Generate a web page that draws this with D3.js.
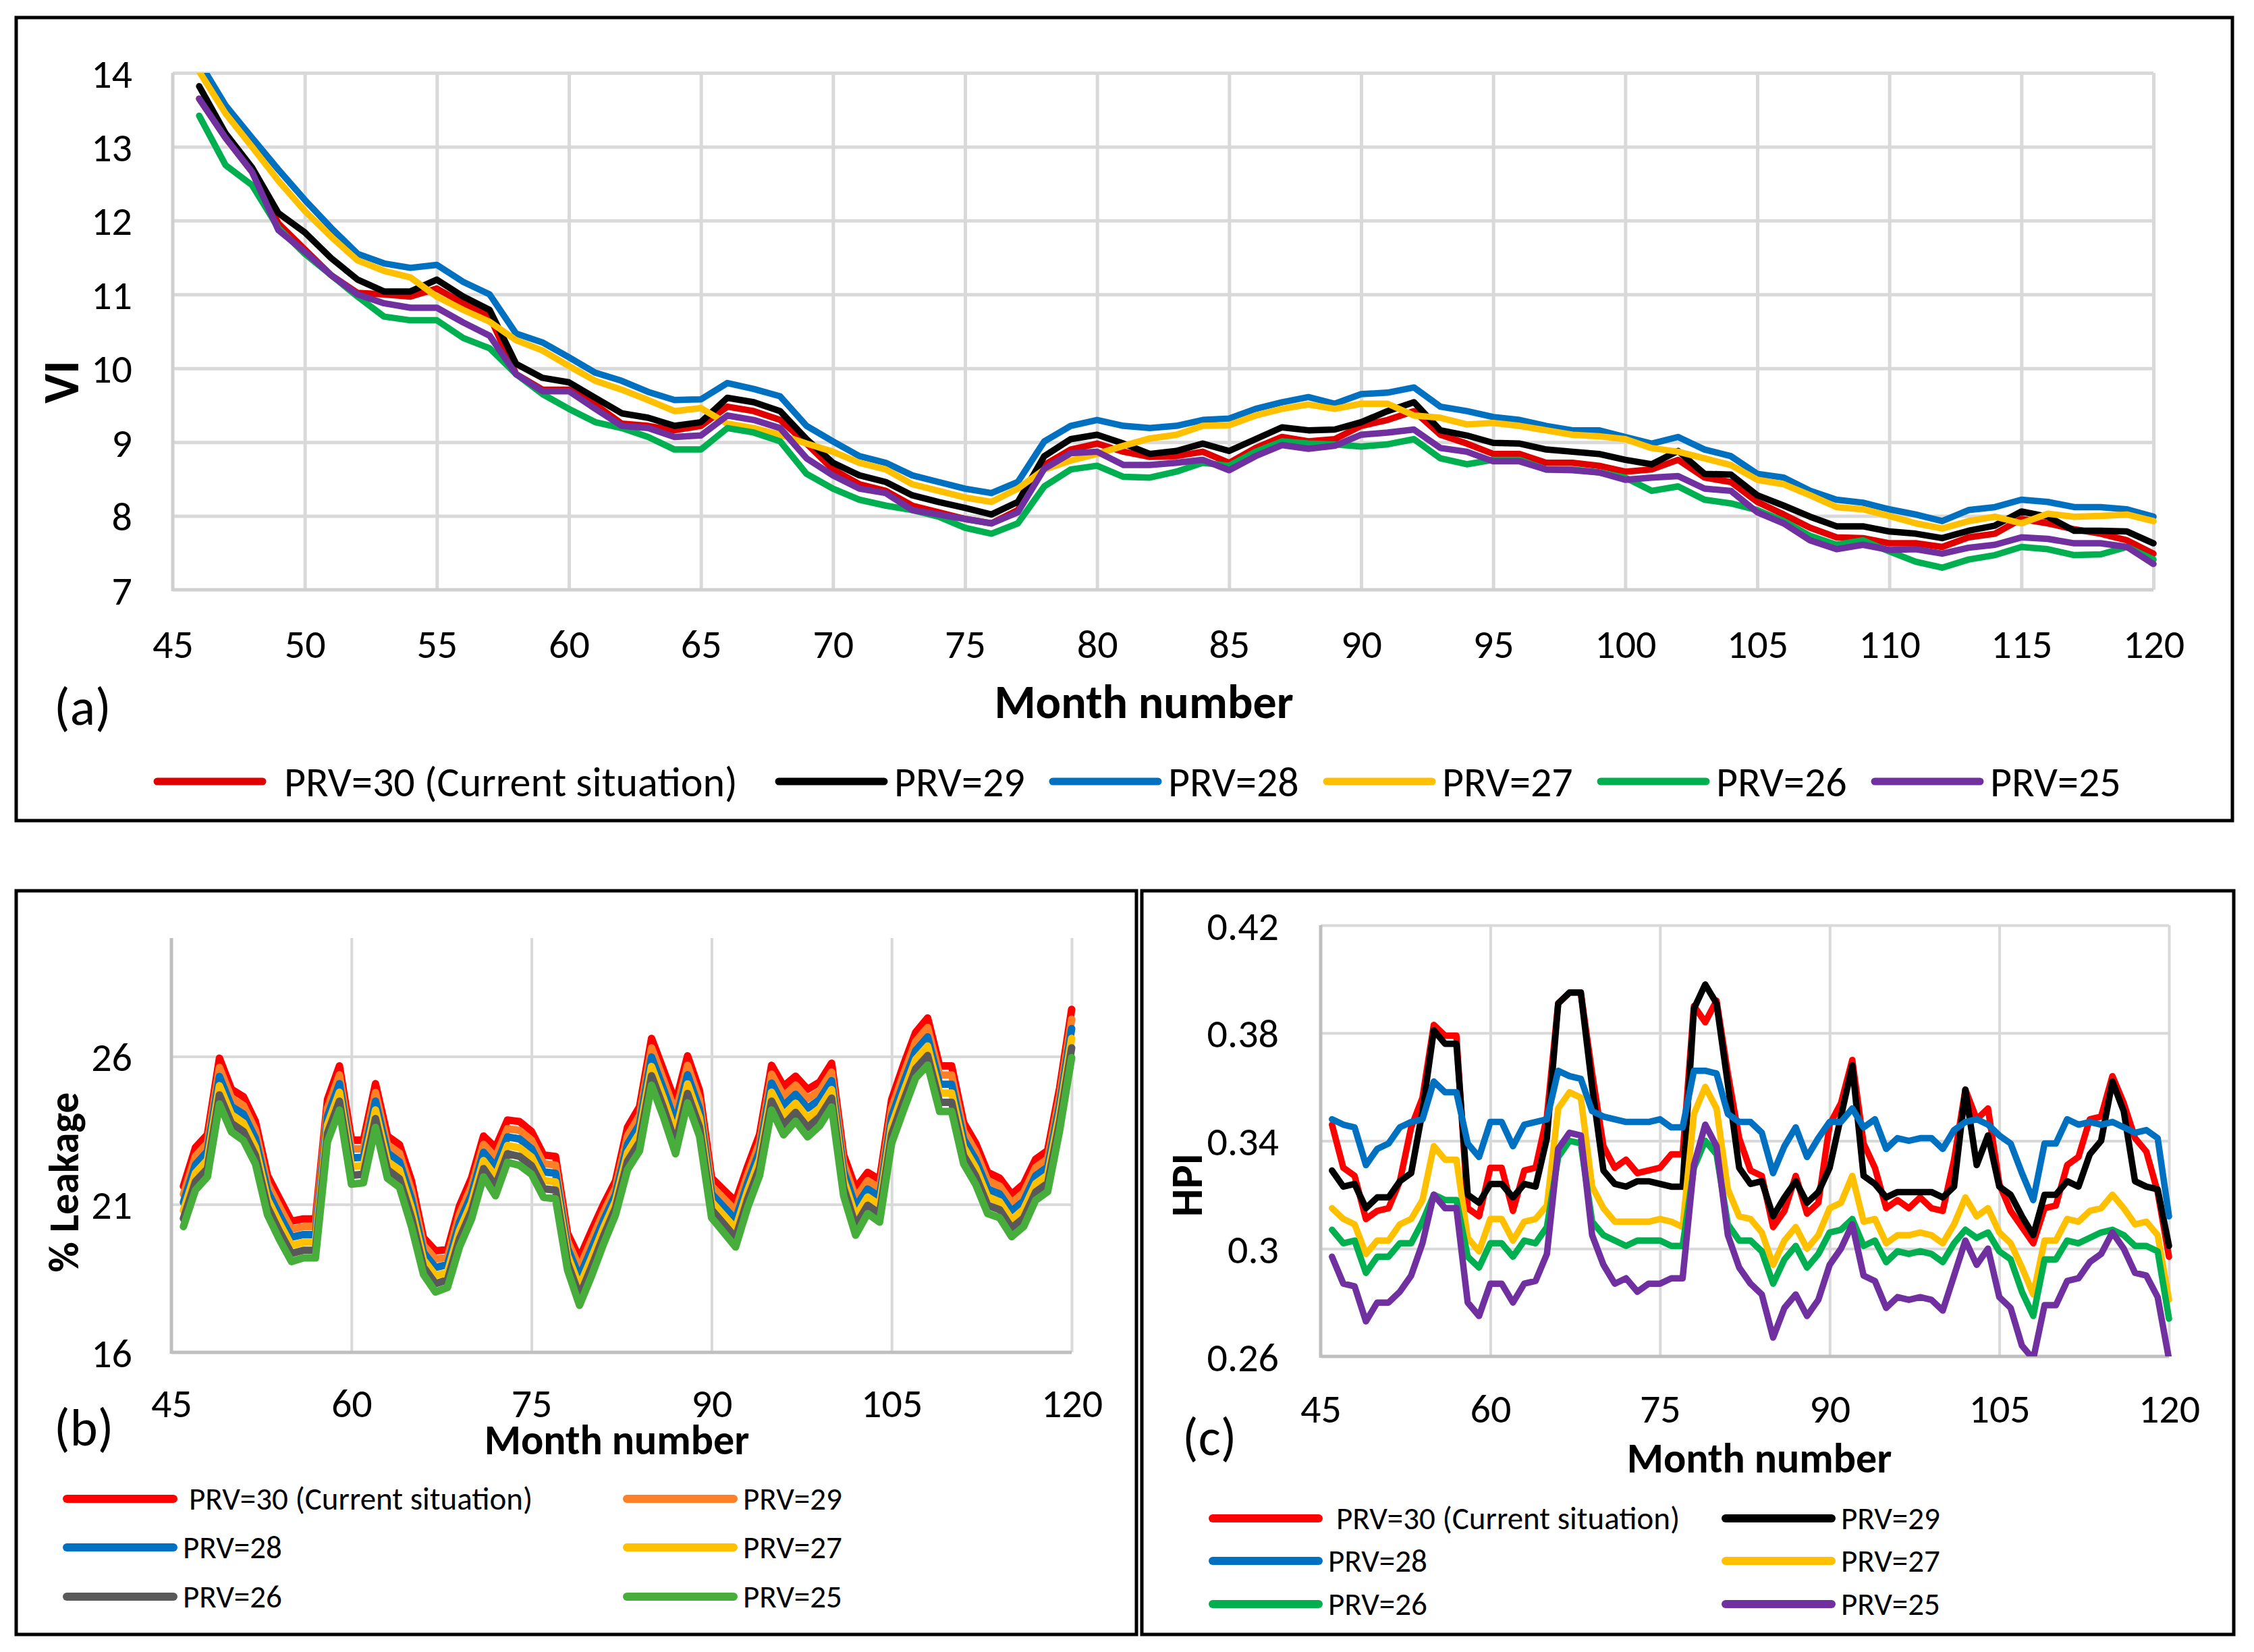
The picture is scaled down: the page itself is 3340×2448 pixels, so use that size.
<!DOCTYPE html>
<html>
<head>
  <meta charset="utf-8">
  <title>PRV scenarios: VI, % Leakage and HPI</title>
  <script src="https://d3js.org/d3.v7.min.js"></script>
  <style>
    body { margin: 0; background: #fff; }
    text { font-family: Carlito, Calibri, 'Liberation Sans Narrow', 'Roboto', sans-serif; fill: #000; }
  </style>
</head>
<body>
<script>
  // months shown in every panel
  const months = d3.range(46, 121);

  // ---- panel (a): VI ----
  const viPrv30 = [13.65, 13.12, 12.66, 11.96, 11.61, 11.26, 11.02, 11.0, 10.97, 11.08, 10.88, 10.7, 9.92, 9.71, 9.71, 9.51, 9.25, 9.22, 9.16, 9.22, 9.48, 9.42, 9.3, 8.98, 8.63, 8.43, 8.34, 8.14, 8.05, 7.96, 7.9, 8.08, 8.69, 8.9, 8.98,
    8.87, 8.8, 8.81, 8.87, 8.72, 8.92, 9.07, 9.01, 9.04, 9.22, 9.3, 9.42, 9.1, 8.98, 8.84, 8.84, 8.72, 8.72, 8.68, 8.6, 8.63, 8.76, 8.52, 8.46, 8.19, 8.02, 7.84, 7.71, 7.7, 7.63, 7.63, 7.58, 7.71, 7.76, 7.96, 7.9, 7.82, 7.76, 7.67, 7.49];
  const viPrv29 = [13.82, 13.18, 12.72, 12.1, 11.84, 11.49, 11.2, 11.04, 11.04, 11.2, 10.97, 10.79, 10.06, 9.87, 9.81, 9.6, 9.39, 9.33, 9.22, 9.27, 9.6, 9.54, 9.42, 9.04, 8.72, 8.55, 8.46, 8.28, 8.19, 8.11, 8.02, 8.19, 8.81, 9.04, 9.1,
    8.98, 8.84, 8.88, 8.98, 8.88, 9.04, 9.2, 9.16, 9.17, 9.27, 9.42, 9.54, 9.16, 9.09, 8.99, 8.98, 8.9, 8.87, 8.84, 8.76, 8.7, 8.88, 8.57, 8.56, 8.28, 8.14, 7.99, 7.86, 7.86, 7.79, 7.76, 7.7, 7.8, 7.87, 8.06, 7.99, 7.8, 7.8, 7.79, 7.63];
  const viPrv28 = [14.15, 13.56, 13.12, 12.69, 12.28, 11.9, 11.55, 11.42, 11.36, 11.4, 11.17, 11.0, 10.47, 10.35, 10.15, 9.94, 9.83, 9.68, 9.57, 9.58, 9.8, 9.72, 9.62, 9.22, 9.01, 8.81, 8.72, 8.55, 8.46, 8.37, 8.31, 8.46, 9.01, 9.22, 9.3,
    9.22, 9.19, 9.22, 9.3, 9.32, 9.45, 9.54, 9.61, 9.52, 9.65, 9.67, 9.74, 9.48, 9.42, 9.34, 9.3, 9.22, 9.16, 9.16, 9.07, 8.98, 9.07, 8.9, 8.81, 8.57, 8.52, 8.34, 8.22, 8.18, 8.09, 8.02, 7.93, 8.08, 8.12, 8.22, 8.19, 8.12, 8.12, 8.09, 7.99];
  const viPrv27 = [14.02, 13.45, 13.0, 12.54, 12.13, 11.78, 11.46, 11.32, 11.23, 10.97, 10.79, 10.63, 10.38, 10.24, 10.03, 9.83, 9.71, 9.57, 9.42, 9.46, 9.25, 9.19, 9.1, 8.98, 8.87, 8.72, 8.63, 8.43, 8.34, 8.25, 8.19, 8.37, 8.63, 8.75, 8.84,
    8.95, 9.05, 9.1, 9.22, 9.23, 9.36, 9.45, 9.51, 9.45, 9.52, 9.52, 9.36, 9.33, 9.24, 9.26, 9.22, 9.16, 9.1, 9.08, 9.04, 8.92, 8.87, 8.78, 8.69, 8.49, 8.43, 8.28, 8.12, 8.09, 8.0, 7.9, 7.83, 7.93, 7.99, 7.9, 8.03, 7.99, 8.0, 8.02, 7.93];
  const viPrv26 = [13.42, 12.75, 12.48, 11.9, 11.55, 11.26, 10.97, 10.7, 10.65, 10.65, 10.41, 10.27, 9.92, 9.65, 9.45, 9.27, 9.19, 9.07, 8.9, 8.9, 9.19, 9.13, 9.01, 8.57, 8.37, 8.22, 8.14, 8.08, 7.99, 7.84, 7.76, 7.9, 8.4, 8.63, 8.68,
    8.53, 8.52, 8.6, 8.72, 8.68, 8.87, 9.01, 8.98, 8.97, 8.94, 8.97, 9.04, 8.78, 8.7, 8.76, 8.76, 8.63, 8.63, 8.59, 8.52, 8.34, 8.4, 8.22, 8.17, 8.08, 7.93, 7.73, 7.61, 7.67, 7.52, 7.38, 7.3, 7.41, 7.47, 7.58, 7.55, 7.47, 7.48, 7.58, 7.41];
  const viPrv25 = [13.65, 13.12, 12.66, 11.87, 11.58, 11.26, 11.0, 10.88, 10.82, 10.82, 10.62, 10.44, 9.92, 9.69, 9.69, 9.45, 9.22, 9.19, 9.07, 9.09, 9.36, 9.3, 9.19, 8.78, 8.55, 8.37, 8.31, 8.08, 8.02, 7.96, 7.9, 8.05, 8.64, 8.85, 8.87,
    8.69, 8.69, 8.72, 8.76, 8.62, 8.81, 8.96, 8.91, 8.95, 9.1, 9.13, 9.17, 8.92, 8.87, 8.74, 8.74, 8.63, 8.62, 8.59, 8.49, 8.52, 8.54, 8.37, 8.34, 8.05, 7.9, 7.67, 7.55, 7.61, 7.54, 7.55, 7.49, 7.57, 7.61, 7.71, 7.69, 7.63, 7.63, 7.58, 7.35];

  // ---- panel (b): % Leakage ----
  const lkPrv30 = [21.61, 22.92, 23.36, 25.94, 24.89, 24.64, 23.80, 21.98, 21.20, 20.43, 20.51, 20.51, 24.54, 25.68, 23.17, 23.17, 25.08, 23.31, 23.02, 21.79, 19.87, 19.43, 19.47, 20.95, 21.89, 23.31, 22.92, 23.85, 23.80, 23.46, 22.67, 22.62, 20.02, 19.18, 20.11, 21.00, 21.79, 23.61, 24.30, 26.61, 25.53, 24.44, 26.02, 24.84, 21.89, 21.49, 21.10, 22.28, 23.36, 25.70, 24.99, 25.33, 24.89, 25.13, 25.77, 22.67, 21.54, 22.08, 21.84, 24.54, 25.72, 26.81, 27.30, 25.68, 25.68, 23.76, 23.07, 22.08, 21.89, 21.34, 21.69, 22.53, 22.82, 24.94, 27.59];
  const lkPrv29 = [21.34, 22.63, 23.07, 25.63, 24.60, 24.34, 23.51, 21.71, 20.92, 20.16, 20.25, 20.25, 24.25, 25.38, 22.87, 22.88, 24.78, 23.02, 22.73, 21.48, 19.62, 19.15, 19.21, 20.67, 21.61, 23.03, 22.59, 23.56, 23.50, 23.17, 22.38, 22.33, 19.77, 18.86, 19.80, 20.73, 21.56, 23.32, 24.00, 26.29, 25.21, 24.09, 25.70, 24.53, 21.62, 21.20, 20.79, 22.00, 23.08, 25.40, 24.66, 25.03, 24.57, 24.83, 25.47, 22.39, 21.22, 21.80, 21.55, 24.24, 25.41, 26.50, 26.98, 25.37, 25.37, 23.48, 22.79, 21.80, 21.62, 21.05, 21.40, 22.25, 22.54, 24.65, 27.26];
  const lkPrv28 = [21.07, 22.34, 22.79, 25.32, 24.31, 24.05, 23.23, 21.45, 20.64, 19.89, 19.98, 19.98, 23.97, 25.08, 22.57, 22.59, 24.49, 22.74, 22.44, 21.17, 19.37, 18.87, 18.96, 20.39, 21.33, 22.76, 22.27, 23.28, 23.21, 22.88, 22.10, 22.05, 19.52, 18.54, 19.50, 20.46, 21.33, 23.03, 23.70, 25.98, 24.89, 23.75, 25.38, 24.22, 21.35, 20.92, 20.48, 21.72, 22.80, 25.10, 24.33, 24.72, 24.25, 24.54, 25.18, 22.12, 20.91, 21.52, 21.26, 23.95, 25.11, 26.19, 26.66, 25.06, 25.06, 23.20, 22.51, 21.52, 21.35, 20.77, 21.11, 21.97, 22.26, 24.36, 26.94];
  const lkPrv27 = [20.79, 22.06, 22.50, 25.01, 24.03, 23.75, 22.94, 21.18, 20.37, 19.61, 19.72, 19.72, 23.68, 24.79, 22.28, 22.31, 24.19, 22.45, 22.16, 20.87, 19.13, 18.60, 18.70, 20.12, 21.06, 22.48, 21.94, 22.99, 22.91, 22.60, 21.81, 21.76, 19.28, 18.23, 19.19, 20.20, 21.11, 22.75, 23.41, 25.66, 24.58, 23.40, 25.07, 23.92, 21.09, 20.63, 20.18, 21.45, 22.53, 24.79, 24.01, 24.42, 23.92, 24.24, 24.88, 21.84, 20.59, 21.25, 20.98, 23.65, 24.80, 25.89, 26.35, 24.76, 24.76, 22.93, 22.24, 21.25, 21.09, 20.48, 20.83, 21.70, 21.99, 24.08, 26.61];
  const lkPrv26 = [20.52, 21.77, 22.21, 24.70, 23.74, 23.46, 22.66, 20.92, 20.09, 19.34, 19.45, 19.45, 23.40, 24.49, 21.98, 22.02, 23.90, 22.17, 21.87, 20.56, 18.88, 18.32, 18.45, 19.84, 20.78, 22.21, 21.62, 22.71, 22.62, 22.31, 21.53, 21.48, 19.03, 17.91, 18.89, 19.93, 20.88, 22.46, 23.11, 25.35, 24.26, 23.05, 24.75, 23.61, 20.82, 20.35, 19.87, 21.17, 22.25, 24.49, 23.68, 24.11, 23.60, 23.95, 24.59, 21.57, 20.28, 20.97, 20.69, 23.36, 24.50, 25.58, 26.03, 24.45, 24.45, 22.65, 21.96, 20.97, 20.82, 20.20, 20.54, 21.42, 21.71, 23.79, 26.29];
  const lkPrv25 = [20.25, 21.48, 21.93, 24.39, 23.45, 23.16, 22.37, 20.65, 19.81, 19.07, 19.19, 19.19, 23.11, 24.19, 21.68, 21.73, 23.60, 21.88, 21.58, 20.25, 18.63, 18.04, 18.19, 19.56, 20.50, 21.93, 21.29, 22.42, 22.32, 22.02, 21.24, 21.19, 18.78, 17.59, 18.58, 19.66, 20.65, 22.17, 22.81, 25.03, 23.94, 22.71, 24.43, 23.30, 20.55, 20.06, 19.56, 20.89, 21.97, 24.19, 23.35, 23.81, 23.28, 23.65, 24.29, 21.29, 19.96, 20.69, 20.40, 23.06, 24.19, 25.27, 25.71, 24.14, 24.14, 22.37, 21.68, 20.69, 20.55, 19.91, 20.25, 21.14, 21.43, 23.50, 25.96];

  // ---- panel (c): HPI ----
  const hpiPrv30 = [0.346, 0.330, 0.327, 0.311, 0.314, 0.315, 0.325, 0.345, 0.356, 0.383, 0.379, 0.379, 0.315, 0.312, 0.330, 0.330, 0.314, 0.329, 0.330, 0.349, 0.391, 0.395, 0.395, 0.365, 0.338, 0.330, 0.333, 0.328, 0.329, 0.330, 0.335, 0.335, 0.390, 0.384, 0.392, 0.365, 0.341, 0.329, 0.327,
    0.308, 0.314, 0.327, 0.313, 0.317, 0.346, 0.354, 0.370, 0.339, 0.330, 0.315, 0.318, 0.315, 0.319, 0.315, 0.314, 0.333, 0.359, 0.348, 0.352, 0.324, 0.314, 0.308, 0.302, 0.315, 0.316, 0.331, 0.334, 0.348, 0.349, 0.364, 0.354, 0.341, 0.336, 0.321, 0.297];
  const hpiPrv29 = [0.329, 0.323, 0.324, 0.315, 0.319, 0.319, 0.325, 0.328, 0.351, 0.381, 0.376, 0.376, 0.320, 0.317, 0.324, 0.324, 0.319, 0.324, 0.323, 0.341, 0.391, 0.395, 0.395, 0.360, 0.329, 0.324, 0.323, 0.325, 0.325, 0.324, 0.323, 0.323, 0.389, 0.398, 0.391, 0.361, 0.330, 0.324, 0.325,
    0.312, 0.319, 0.325, 0.317, 0.321, 0.330, 0.349, 0.368, 0.327, 0.324, 0.319, 0.321, 0.321, 0.321, 0.321, 0.319, 0.323, 0.359, 0.331, 0.342, 0.323, 0.320, 0.312, 0.305, 0.320, 0.320, 0.325, 0.323, 0.335, 0.340, 0.362, 0.351, 0.325, 0.323, 0.322, 0.301];
  const hpiPrv28 = [0.348, 0.346, 0.345, 0.331, 0.337, 0.339, 0.345, 0.347, 0.348, 0.362, 0.358, 0.358, 0.339, 0.334, 0.347, 0.347, 0.338, 0.346, 0.347, 0.348, 0.366, 0.364, 0.363, 0.351, 0.349, 0.348, 0.347, 0.347, 0.347, 0.348, 0.345, 0.345, 0.366, 0.366, 0.365, 0.350, 0.347, 0.347, 0.343,
    0.328, 0.338, 0.345, 0.334, 0.341, 0.347, 0.347, 0.352, 0.345, 0.348, 0.337, 0.341, 0.340, 0.341, 0.341, 0.337, 0.344, 0.347, 0.348, 0.346, 0.342, 0.339, 0.328, 0.318, 0.339, 0.339, 0.348, 0.346, 0.347, 0.346, 0.347, 0.345, 0.343, 0.344, 0.341, 0.312];
  const hpiPrv27 = [0.315, 0.311, 0.309, 0.298, 0.303, 0.303, 0.309, 0.311, 0.318, 0.338, 0.333, 0.333, 0.304, 0.299, 0.311, 0.311, 0.303, 0.310, 0.311, 0.316, 0.352, 0.358, 0.356, 0.323, 0.315, 0.310, 0.310, 0.310, 0.310, 0.311, 0.310, 0.308, 0.350, 0.360, 0.352, 0.322, 0.312, 0.311, 0.306,
    0.294, 0.303, 0.308, 0.300, 0.305, 0.315, 0.317, 0.327, 0.310, 0.311, 0.302, 0.305, 0.305, 0.306, 0.305, 0.302, 0.309, 0.319, 0.312, 0.315, 0.306, 0.302, 0.293, 0.283, 0.303, 0.303, 0.311, 0.310, 0.314, 0.315, 0.320, 0.315, 0.309, 0.310, 0.305, 0.281];
  const hpiPrv26 = [0.307, 0.302, 0.303, 0.291, 0.297, 0.297, 0.302, 0.302, 0.310, 0.320, 0.318, 0.318, 0.297, 0.293, 0.302, 0.302, 0.297, 0.303, 0.302, 0.308, 0.334, 0.340, 0.339, 0.310, 0.305, 0.303, 0.301, 0.303, 0.303, 0.303, 0.301, 0.301, 0.330, 0.340, 0.335, 0.309, 0.303, 0.303, 0.299,
    0.287, 0.296, 0.301, 0.293, 0.298, 0.306, 0.307, 0.311, 0.301, 0.303, 0.295, 0.299, 0.298, 0.299, 0.298, 0.295, 0.302, 0.307, 0.304, 0.306, 0.299, 0.296, 0.284, 0.275, 0.296, 0.296, 0.303, 0.302, 0.304, 0.306, 0.307, 0.305, 0.301, 0.301, 0.299, 0.274];
  const hpiPrv25 = [0.297, 0.287, 0.286, 0.273, 0.280, 0.280, 0.284, 0.290, 0.302, 0.320, 0.315, 0.315, 0.280, 0.275, 0.287, 0.287, 0.280, 0.287, 0.288, 0.298, 0.337, 0.343, 0.342, 0.305, 0.294, 0.287, 0.289, 0.284, 0.287, 0.287, 0.289, 0.289, 0.331, 0.346, 0.338, 0.305, 0.293, 0.287, 0.283,
    0.267, 0.278, 0.283, 0.275, 0.281, 0.294, 0.300, 0.309, 0.290, 0.288, 0.278, 0.282, 0.281, 0.282, 0.281, 0.277, 0.290, 0.303, 0.294, 0.300, 0.282, 0.278, 0.264, 0.259, 0.279, 0.279, 0.288, 0.289, 0.295, 0.298, 0.306, 0.300, 0.291, 0.290, 0.282, 0.259];

  // tick values and labels
  const xTicksA = d3.range(45, 121, 5);
  const yTicksA = [7, 8, 9, 10, 11, 12, 13, 14];
  const xTicksBC = [45, 60, 75, 90, 105, 120];
  const yTicksB = [16, 21, 26];
  const yTicksC = [0.26, 0.30, 0.34, 0.38, 0.42];
  const seriesNames = ["PRV=30 (Current situation)", "PRV=29", "PRV=28", "PRV=27", "PRV=26", "PRV=25"];

  const svg = d3.select("body").append("svg")
    .attr("width", 3340)
    .attr("height", 2448);

  // outer frames
  svg.append("rect").attr("x", 24).attr("y", 26).attr("width", 3284).attr("height", 1190)
    .attr("fill", "none").attr("stroke", "#000").attr("stroke-width", 5);
  svg.append("rect").attr("x", 24).attr("y", 1320).attr("width", 1660).attr("height", 1102)
    .attr("fill", "none").attr("stroke", "#000").attr("stroke-width", 5);
  svg.append("rect").attr("x", 1692).attr("y", 1320).attr("width", 1618).attr("height", 1102)
    .attr("fill", "none").attr("stroke", "#000").attr("stroke-width", 5);

  // draws one chart panel
  function drawPanel(p) {
    const xScale = d3.scaleLinear().domain([45, 120]).range([p.left, p.right]);
    const yScale = d3.scaleLinear().domain(p.yDomain).range([p.bottom, p.top]);
    const g = svg.append("g").attr("id", p.id);

    // gridlines
    g.append("g")
      .attr("transform", `translate(0,${p.bottom})`)
      .call(d3.axisBottom(xScale).tickValues(p.vGrid).tickSize(-(p.bottom - p.top)).tickFormat(""))
      .call(a => a.select(".domain").remove())
      .selectAll("line").attr("stroke", p.gridColor).attr("stroke-width", p.gridWidth);
    g.append("g")
      .attr("transform", `translate(${p.left},0)`)
      .call(d3.axisLeft(yScale).tickValues(p.hGrid).tickSize(-(p.right - p.left)).tickFormat(""))
      .call(a => a.select(".domain").remove())
      .selectAll("line").attr("stroke", p.gridColor).attr("stroke-width", p.gridWidth);

    // axis lines
    g.append("line").attr("x1", p.left).attr("x2", p.left).attr("y1", p.top).attr("y2", p.bottom + 2)
      .attr("stroke", p.axisColor).attr("stroke-width", p.axisWidth);
    g.append("line").attr("x1", p.left).attr("x2", p.right).attr("y1", p.bottom).attr("y2", p.bottom)
      .attr("stroke", p.axisColor).attr("stroke-width", p.axisWidth);

    // tick labels
    const xAx = g.append("g")
      .attr("transform", `translate(0,${p.xLabelY})`)
      .call(d3.axisBottom(xScale).tickValues(p.xTicks).tickSize(0).tickPadding(0));
    xAx.select(".domain").remove();
    xAx.selectAll("text").attr("dy", 0).style("font-size", p.tickSize + "px").attr("font-family", null);

    const yAx = g.append("g")
      .attr("transform", `translate(${p.yLabelX},0)`)
      .call(d3.axisLeft(yScale).tickValues(p.yTicks).tickSize(0).tickPadding(0).tickFormat(p.yFormat));
    yAx.select(".domain").remove();
    yAx.selectAll("text").attr("dy", "0.35em").style("font-size", p.tickSize + "px").attr("font-family", null);

    // series, clipped to the plot area
    g.append("clipPath").attr("id", p.id + "-clip")
      .append("rect").attr("x", p.left - 20).attr("y", p.top).attr("width", p.right - p.left + 40).attr("height", p.bottom - p.top);
    const line = d3.line().x((d, i) => xScale(months[i])).y(d => yScale(d));
    const lines = g.append("g").attr("clip-path", `url(#${p.id}-clip)`);
    p.series.forEach(s => {
      lines.append("path")
        .attr("d", line(s.values))
        .attr("fill", "none")
        .attr("stroke", s.color)
        .attr("stroke-width", p.lineWidth)
        .attr("stroke-linejoin", "round")
        .attr("stroke-linecap", "round");
    });

    // titles
    g.append("text").attr("x", p.xTitle[0]).attr("y", p.xTitle[1])
      .attr("text-anchor", "middle").style("font-size", p.titleSize + "px").style("font-weight", "bold")
      .text("Month number");
    g.append("text")
      .attr("transform", `translate(${p.yTitle[0]},${p.yTitle[1]}) rotate(-90)`)
      .attr("text-anchor", "middle").attr("dy", "0.35em")
      .style("font-size", p.yTitleSize + "px").style("font-weight", "bold")
      .text(p.yTitleText);
    g.append("text").attr("x", p.letter[0]).attr("y", p.letter[1])
      .style("font-size", p.letterSize + "px").text(p.letterText);

    // legend
    p.series.forEach((s, i) => {
      const pos = p.legendPos[i];
      g.append("line").attr("x1", pos[0]).attr("x2", pos[0] + p.legendLen)
        .attr("y1", pos[1]).attr("y2", pos[1])
        .attr("stroke", s.color).attr("stroke-width", p.legendWidth).attr("stroke-linecap", "round");
      g.append("text").attr("x", pos[2]).attr("y", pos[1]).attr("dy", "0.35em")
        .style("font-size", p.legendSize + "px").text(s.name);
    });
  }

  // panel (a)
  drawPanel({
    id: "panel-a", left: 256, right: 3191, top: 108, bottom: 874,
    yDomain: [7, 14], xTicks: xTicksA, yTicks: yTicksA, yFormat: d3.format("d"),
    vGrid: xTicksA.slice(1), hGrid: yTicksA.slice(1),
    gridColor: "#d9d9d9", gridWidth: 5, axisColor: "#d0d0d0", axisWidth: 5,
    xLabelY: 975, yLabelX: 196, tickSize: 60,
    lineWidth: 9.5,
    xTitle: [1695, 1064], titleSize: 70,
    yTitle: [90, 566], yTitleSize: 74, yTitleText: "VI",
    letter: [80, 1074], letterSize: 78, letterText: "(a)",
    legendLen: 156, legendWidth: 11, legendSize: 62,
    legendPos: [[233, 1158, 421], [1154, 1158, 1325], [1560, 1158, 1731], [1966, 1158, 2137], [2372, 1158, 2543], [2778, 1158, 2949]],
    series: [
      { name: seriesNames[0], color: "#e00000", values: viPrv30 },
      { name: seriesNames[1], color: "#000000", values: viPrv29 },
      { name: seriesNames[2], color: "#0070c0", values: viPrv28 },
      { name: seriesNames[3], color: "#ffc000", values: viPrv27 },
      { name: seriesNames[4], color: "#00b050", values: viPrv26 },
      { name: seriesNames[5], color: "#7030a0", values: viPrv25 }
    ]
  });

  // panel (b)
  drawPanel({
    id: "panel-b", left: 254, right: 1588, top: 1390, bottom: 2004,
    yDomain: [16, 30], xTicks: xTicksBC, yTicks: yTicksB, yFormat: d3.format("d"),
    vGrid: xTicksBC.slice(1), hGrid: yTicksB.slice(1),
    gridColor: "#d9d9d9", gridWidth: 4, axisColor: "#bfbfbf", axisWidth: 5,
    xLabelY: 2100, yLabelX: 196, tickSize: 60,
    lineWidth: 11,
    xTitle: [914, 2155], titleSize: 62,
    yTitle: [94, 1752], yTitleSize: 62, yTitleText: "% Leakage",
    letter: [80, 2142], letterSize: 78, letterText: "(b)",
    legendLen: 158, legendWidth: 12, legendSize: 47,
    legendPos: [[99, 2221, 280], [929, 2221, 1101], [99, 2293, 271], [929, 2293, 1101], [99, 2366, 271], [929, 2366, 1101]],
    series: [
      { name: seriesNames[0], color: "#ff0000", values: lkPrv30 },
      { name: seriesNames[1], color: "#ff7f27", values: lkPrv29 },
      { name: seriesNames[2], color: "#0070c0", values: lkPrv28 },
      { name: seriesNames[3], color: "#ffc000", values: lkPrv27 },
      { name: seriesNames[4], color: "#595959", values: lkPrv26 },
      { name: seriesNames[5], color: "#47ae3c", values: lkPrv25 }
    ]
  });

  // panel (c)
  drawPanel({
    id: "panel-c", left: 1957, right: 3214, top: 1371, bottom: 2010,
    yDomain: [0.26, 0.42], xTicks: xTicksBC, yTicks: yTicksC, yFormat: d => String(+d.toFixed(2)),
    vGrid: xTicksBC.slice(1), hGrid: yTicksC.slice(1),
    gridColor: "#d9d9d9", gridWidth: 4, axisColor: "#bfbfbf", axisWidth: 5,
    xLabelY: 2108, yLabelX: 1895, tickSize: 60,
    lineWidth: 9.5,
    xTitle: [2607, 2182], titleSize: 62,
    yTitle: [1758, 1756], yTitleSize: 66, yTitleText: "HPI",
    letter: [1752, 2156], letterSize: 78, letterText: "(c)",
    legendLen: 157, legendWidth: 12, legendSize: 47,
    legendPos: [[1797, 2250, 1980], [2557, 2250, 2728], [1797, 2313, 1968], [2557, 2313, 2728], [1797, 2377, 1968], [2557, 2377, 2728]],
    series: [
      { name: seriesNames[0], color: "#ff0000", values: hpiPrv30 },
      { name: seriesNames[1], color: "#000000", values: hpiPrv29 },
      { name: seriesNames[2], color: "#0070c0", values: hpiPrv28 },
      { name: seriesNames[3], color: "#ffc000", values: hpiPrv27 },
      { name: seriesNames[4], color: "#00b050", values: hpiPrv26 },
      { name: seriesNames[5], color: "#7030a0", values: hpiPrv25 }
    ]
  });
</script>
</body>
</html>
